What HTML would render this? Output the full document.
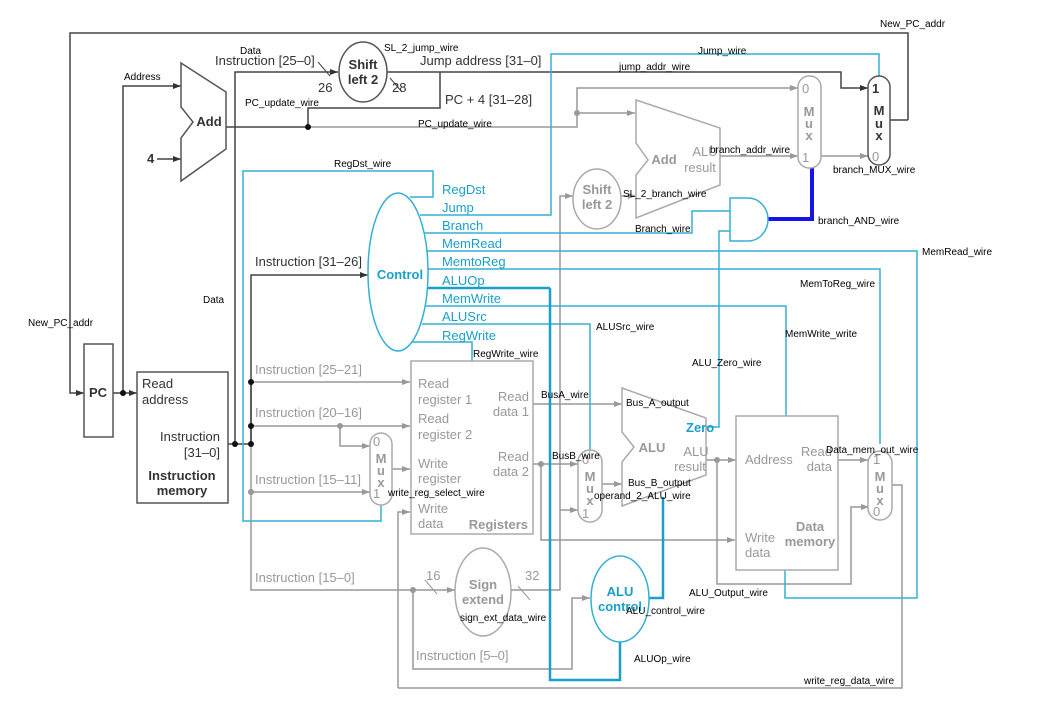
<!DOCTYPE html>
<html><head><meta charset="utf-8"><style>
html,body{margin:0;padding:0;background:#fff}
svg{display:block}
text{font-family:"Liberation Sans",Arial,sans-serif}
.w{font-size:10px;fill:#000}
.g{font-size:13px;fill:#999}
.k{font-size:13px;fill:#333}
.c{font-size:13px;fill:#1aa0c8;font-weight:bold}
.cn{font-size:13px;fill:#1aa0c8}
.b{font-weight:bold}
</style></head><body>
<svg width="1038" height="722" viewBox="0 0 1038 722" xmlns="http://www.w3.org/2000/svg">
<defs>
<marker id="ad" markerWidth="8" markerHeight="6" refX="8" refY="3" orient="auto" markerUnits="userSpaceOnUse"><path d="M0,0L8,3L0,6z" fill="#333"/></marker>
<marker id="ag" markerWidth="8" markerHeight="6" refX="8" refY="3" orient="auto" markerUnits="userSpaceOnUse"><path d="M0,0L8,3L0,6z" fill="#999"/></marker>
</defs>
<g fill="none" stroke-width="1.5">
<g stroke="#444">
<path d="M908,120H908V33H70V393H84" marker-end="url(#ad)"/>
<path d="M890,120H908"/>
<path d="M113,393H137" marker-end="url(#ad)"/>
<path d="M123,393V86H181" marker-end="url(#ad)"/>
<path d="M157,159H181" marker-end="url(#ad)"/>
<path d="M228,444H251"/>
<path d="M235,444V72H338" marker-end="url(#ad)"/>
<path d="M251,444V275H368" marker-end="url(#ad)"/>
<path d="M251,444V382"/>
<path d="M226,127H310"/>
<path d="M308,127V108H440V72"/>
<path d="M387,72H841V88H868" marker-end="url(#ad)"/>
<path d="M318,62l12,14M390,78l12,14" stroke-width="1"/>
</g>
<g stroke="#999">
<path d="M310,127H577V88H798" marker-end="url(#ag)"/>
<path d="M577,113H635" marker-end="url(#ag)"/>
<path d="M720,156H798" marker-end="url(#ag)"/>
<path d="M821,156H868" marker-end="url(#ag)"/>
<path d="M621,196H636" marker-end="url(#ag)"/>
<path d="M251,382H410" marker-end="url(#ag)"/>
<path d="M251,426H410" marker-end="url(#ag)"/>
<path d="M340,426V446H370" marker-end="url(#ag)"/>
<path d="M251,492H370" marker-end="url(#ag)"/>
<path d="M392,469H410" marker-end="url(#ag)"/>
<path d="M251,444V590H455" marker-end="url(#ag)"/>
<path d="M413,590V669H572V598H590" marker-end="url(#ag)"/>
<path d="M398,688V512H410" marker-end="url(#ag)"/>
<path d="M398,688H902V485H892"/>
<path d="M511,590H560V196H573" marker-end="url(#ag)"/>
<path d="M560,510H578" marker-end="url(#ag)"/>
<path d="M533,404H622" marker-end="url(#ag)"/>
<path d="M533,464H578" marker-end="url(#ag)"/>
<path d="M541,464V540H735" marker-end="url(#ag)"/>
<path d="M602,484H622" marker-end="url(#ag)"/>
<path d="M706,460H736" marker-end="url(#ag)"/>
<path d="M717,460V584H851V507H869" marker-end="url(#ag)"/>
<path d="M838,460H868" marker-end="url(#ag)"/>
<path d="M425,580l12,14M518,586l12,14" stroke-width="1"/>
</g>
<g stroke="#33b0d4">
<path d="M410,197H433V171H243V521H381V502"/>
<path d="M420,215H551V54H879V76"/>
<path d="M424,233H692V211H730"/>
<path d="M706,427H719V231H730"/>
<path d="M427,251H917V598H785V570"/>
<path d="M428,269H880V444"/>
<path d="M426,306H786V417"/>
<path d="M422,324H590V451"/>
<path d="M412,342H472V361"/>
<path d="M550,288V680H620V642" stroke-width="2.5" stroke="#1a9fcc"/>
<path d="M426,288H550" stroke-width="2.5" stroke="#1a9fcc"/>
<path d="M648,598H663V497" stroke-width="2.5" stroke="#1a9fcc"/>
</g>
<path d="M767,219H812V168" stroke="#1515e8" stroke-width="4"/>
<rect x="84" y="344" width="29" height="93" stroke="#555" fill="#fff"/>
<rect x="137" y="372" width="91" height="131" stroke="#555" fill="#fff"/>
<path d="M181,63L226,92V149L181,181V138L193,122L181,107Z" stroke="#555" fill="#fff"/>
<ellipse cx="363" cy="72" rx="24" ry="30" stroke="#555" fill="#fff"/>
<path d="M636,100L720,128V185L636,218V175L648,160L636,143Z" stroke="#aaa" fill="#fff"/>
<ellipse cx="597" cy="199" rx="24" ry="30" stroke="#aaa" fill="#fff"/>
<rect x="798" y="76" width="23" height="92" rx="11" stroke="#aaa" fill="#fff"/>
<rect x="868" y="76" width="22" height="89" rx="11" stroke="#555" fill="#fff"/>
<path d="M730,198H748A20,21.5 0 0 1 748,241H730Z" stroke="#33b0d4" fill="#fff"/>
<ellipse cx="398" cy="272" rx="30" ry="79" stroke="#33b0d4" fill="#fff"/>
<rect x="411" y="361" width="122" height="173" stroke="#aaa" fill="#fff"/>
<rect x="370" y="433" width="22" height="72" rx="11" stroke="#aaa" fill="#fff"/>
<ellipse cx="483" cy="592" rx="28" ry="44" stroke="#aaa" fill="#fff"/>
<rect x="578" y="450" width="24" height="72" rx="12" stroke="#aaa" fill="#fff"/>
<path d="M622,388L706,418V475L622,506V462L634,447L622,432Z" stroke="#aaa" fill="#fff"/>
<ellipse cx="620" cy="599" rx="29" ry="43" stroke="#33b0d4" fill="#fff"/>
<rect x="736" y="416" width="102" height="154" stroke="#aaa" fill="#fff"/>
<rect x="868" y="451" width="24" height="69" rx="12" stroke="#aaa" fill="#fff"/>
</g>
<g fill="#111">
<circle cx="123" cy="393" r="3"/><circle cx="235" cy="444" r="3"/><circle cx="251" cy="444" r="3"/>
<circle cx="251" cy="382" r="3"/><circle cx="251" cy="426" r="3"/><circle cx="308" cy="127" r="3"/>
</g>
<g fill="#999">
<circle cx="577" cy="113" r="3"/><circle cx="340" cy="426" r="3"/><circle cx="251" cy="492" r="3"/>
<circle cx="413" cy="590" r="3"/><circle cx="541" cy="464" r="3"/><circle cx="717" cy="460" r="3"/>
</g>
<text x="98" y="397" class="k b" text-anchor="middle">PC</text>
<text x="142" y="388" class="k">Read</text><text x="142" y="404" class="k">address</text>
<text x="220" y="441" class="k" text-anchor="end">Instruction</text><text x="220" y="457" class="k" text-anchor="end">[31–0]</text>
<text x="182" y="480" class="k b" text-anchor="middle">Instruction</text><text x="182" y="495" class="k b" text-anchor="middle">memory</text>
<text x="209" y="126" class="k b" text-anchor="middle">Add</text>
<text x="147" y="163" class="k b">4</text>
<text x="363" y="69" class="k b" text-anchor="middle">Shift</text><text x="363" y="84" class="k b" text-anchor="middle">left 2</text>
<text x="318" y="92" class="k">26</text><text x="392" y="92" class="k">28</text>
<text x="215" y="65" class="k">Instruction [25–0]</text>
<text x="420" y="65" class="k">Jump address [31–0]</text>
<text x="445" y="104" class="k">PC + 4 [31–28]</text>
<text x="255" y="266" class="k">Instruction [31–26]</text>
<text x="872" y="93" class="k b">1</text><text x="879" y="115" class="k b" text-anchor="middle">M</text><text x="879" y="128" class="k b" text-anchor="middle">u</text><text x="879" y="140" class="k b" text-anchor="middle">x</text><text x="872" y="161" class="g">0</text>
<text x="802" y="93" class="g">0</text><text x="809" y="116" class="g b" text-anchor="middle">M</text><text x="809" y="128" class="g b" text-anchor="middle">u</text><text x="809" y="140" class="g b" text-anchor="middle">x</text><text x="802" y="162" class="g">1</text>
<text x="664" y="164" class="g b" text-anchor="middle">Add</text><text x="705" y="156" class="g" text-anchor="middle">ALU</text><text x="700" y="172" class="g" text-anchor="middle">result</text>
<text x="597" y="194" class="g b" text-anchor="middle">Shift</text><text x="597" y="209" class="g b" text-anchor="middle">left 2</text>
<text x="255" y="374" class="g">Instruction [25–21]</text><text x="255" y="417" class="g">Instruction [20–16]</text>
<text x="255" y="484" class="g">Instruction [15–11]</text><text x="255" y="582" class="g">Instruction [15–0]</text>
<text x="416" y="660" class="g">Instruction [5–0]</text>
<text x="418" y="388" class="g">Read</text><text x="418" y="404" class="g">register 1</text>
<text x="418" y="423" class="g">Read</text><text x="418" y="439" class="g">register 2</text>
<text x="418" y="468" class="g">Write</text><text x="418" y="483" class="g">register</text>
<text x="418" y="513" class="g">Write</text><text x="418" y="528" class="g">data</text>
<text x="529" y="401" class="g" text-anchor="end">Read</text><text x="529" y="416" class="g" text-anchor="end">data 1</text>
<text x="529" y="461" class="g" text-anchor="end">Read</text><text x="529" y="476" class="g" text-anchor="end">data 2</text>
<text x="528" y="529" class="g b" text-anchor="end">Registers</text>
<text x="373" y="446" class="g">0</text><text x="381" y="463" class="g b" text-anchor="middle">M</text><text x="381" y="475" class="g b" text-anchor="middle">u</text><text x="381" y="487" class="g b" text-anchor="middle">x</text><text x="373" y="498" class="g">1</text>
<text x="483" y="589" class="g b" text-anchor="middle">Sign</text><text x="483" y="604" class="g b" text-anchor="middle">extend</text>
<text x="426" y="580" class="g">16</text><text x="525" y="580" class="g">32</text>
<text x="582" y="464" class="g">0</text><text x="590" y="481" class="g b" text-anchor="middle">M</text><text x="590" y="493" class="g b" text-anchor="middle">u</text><text x="590" y="505" class="g b" text-anchor="middle">x</text><text x="582" y="518" class="g">1</text>
<text x="652" y="452" class="g b" text-anchor="middle">ALU</text><text x="686" y="432" class="c">Zero</text>
<text x="696" y="456" class="g" text-anchor="middle">ALU</text><text x="690" y="471" class="g" text-anchor="middle">result</text>
<text x="745" y="464" class="g">Address</text>
<text x="832" y="456" class="g" text-anchor="end">Read</text><text x="832" y="471" class="g" text-anchor="end">data</text>
<text x="810" y="531" class="g b" text-anchor="middle">Data</text><text x="810" y="546" class="g b" text-anchor="middle">memory</text>
<text x="745" y="542" class="g">Write</text><text x="745" y="557" class="g">data</text>
<text x="873" y="464" class="g">1</text><text x="880" y="481" class="g b" text-anchor="middle">M</text><text x="880" y="493" class="g b" text-anchor="middle">u</text><text x="880" y="505" class="g b" text-anchor="middle">x</text><text x="873" y="516" class="g">0</text>
<text x="400" y="279" class="c" text-anchor="middle">Control</text>
<text x="620" y="596" class="c" text-anchor="middle">ALU</text><text x="620" y="611" class="c" text-anchor="middle">control</text>
<text x="442" y="194" class="cn">RegDst</text><text x="442" y="212" class="cn">Jump</text><text x="442" y="230" class="cn">Branch</text>
<text x="442" y="248" class="cn">MemRead</text><text x="442" y="266" class="cn">MemtoReg</text><text x="442" y="285" class="cn">ALUOp</text>
<text x="442" y="303" class="cn">MemWrite</text><text x="442" y="321" class="cn">ALUSrc</text><text x="442" y="340" class="cn">RegWrite</text>
<g class="w">
<text x="880" y="27" class="w">New_PC_addr</text><text x="28" y="326" class="w">New_PC_addr</text>
<text x="124" y="80" class="w">Address</text><text x="240" y="54" class="w">Data</text><text x="203" y="303" class="w">Data</text>
<text x="384" y="51" class="w">SL_2_jump_wire</text><text x="698" y="54" class="w">Jump_wire</text>
<text x="619" y="70" class="w">jump_addr_wire</text>
<text x="245" y="106" class="w">PC_update_wire</text><text x="418" y="127" class="w">PC_update_wire</text>
<text x="710" y="153" class="w">branch_addr_wire</text><text x="833" y="173" class="w">branch_MUX_wire</text>
<text x="623" y="197" class="w">SL_2_branch_wire</text><text x="635" y="232" class="w">Branch_wire</text>
<text x="818" y="224" class="w">branch_AND_wire</text><text x="922" y="255" class="w">MemRead_wire</text>
<text x="800" y="287" class="w">MemToReg_wire</text><text x="785" y="337" class="w">MemWrite_write</text>
<text x="334" y="167" class="w">RegDst_wire</text><text x="596" y="330" class="w">ALUSrc_wire</text>
<text x="473" y="357" class="w">RegWrite_wire</text><text x="692" y="366" class="w">ALU_Zero_wire</text>
<text x="541" y="398" class="w">BusA_wire</text><text x="626" y="406" class="w">Bus_A_output</text>
<text x="552" y="459" class="w">BusB_wire</text><text x="628" y="486" class="w">Bus_B_output</text>
<text x="594" y="499" class="w">operand_2_ALU_wire</text><text x="388" y="496" class="w">write_reg_select_wire</text>
<text x="826" y="453" class="w">Data_mem_out_wire</text><text x="689" y="596" class="w">ALU_Output_wire</text>
<text x="626" y="614" class="w">ALU_control_wire</text><text x="460" y="621" class="w">sign_ext_data_wire</text>
<text x="634" y="662" class="w">ALUOp_wire</text><text x="804" y="684" class="w">write_reg_data_wire</text>
</g>
</svg>
</body></html>
